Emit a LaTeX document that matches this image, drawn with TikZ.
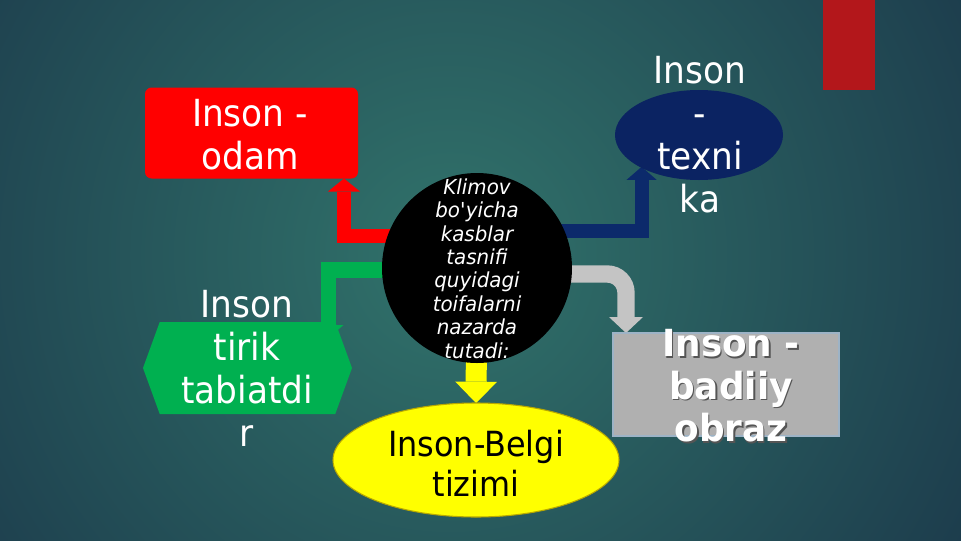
\documentclass[tikz,border=0pt]{standalone}
\usepackage{fontspec}
\setmainfont{DejaVu Sans}[FakeStretch=0.92]
\newfontfamily\boldfam{DejaVu Sans}[FakeStretch=0.96]
\usetikzlibrary{arrows.meta,shapes.geometric,shapes.symbols}
\definecolor{bgout}{HTML}{1B384A}
\definecolor{bgin}{HTML}{31736B}
\definecolor{redbox}{HTML}{FF0000}
\definecolor{navy}{HTML}{0B2362}
\definecolor{navyarr}{HTML}{0C2A6B}
\definecolor{greenbox}{HTML}{00B050}
\definecolor{graybox}{HTML}{B0B0B0}
\definecolor{grayedge}{HTML}{9DB3C6}
\definecolor{grayarr}{HTML}{C4C4C4}
\definecolor{yellowbox}{HTML}{FFFF00}
\definecolor{yellowedge}{HTML}{B8A800}
\definecolor{cornerred}{HTML}{B3171B}
\definecolor{shadowcol}{HTML}{555555}
\pgfdeclarelayer{bg}
\pgfdeclarelayer{arrowlayer}
\pgfsetlayers{bg,arrowlayer,main}
\begin{document}
\begin{tikzpicture}[x=0.75pt,y=-0.75pt,
  bigtext/.style={text=white,align=center,inner sep=0pt,font=\fontsize{28}{32.25}\selectfont},
  graytext/.style={align=center,inner sep=0pt,font=\boldfam\bfseries\fontsize{28}{31.9}\selectfont},
  shapebox/.style={inner sep=0pt,outer sep=0pt},
  conn/.style={line cap=butt,line join=miter},
  redarr/.style={conn,draw=redbox,line width=10.5pt,-{Triangle[width=24pt,length=9.75pt,line width=0pt]}},
  navyarr/.style={conn,draw=navyarr,line width=10.5pt,-{Triangle[width=22.5pt,length=9.75pt,line width=0pt]}},
  greenarr/.style={conn,draw=greenbox,line width=11.5pt,-{Triangle[width=22.5pt,length=9.75pt,line width=0pt]}},
  grayarr/.style={conn,draw=grayarr,line width=13pt,rounded corners=14pt,-{Triangle[width=25.5pt,length=12pt,line width=0pt]}},
  yellowarr/.style={conn,draw=yellowbox,line width=15.75pt,-{Triangle[width=31.5pt,length=16pt,line width=0pt]}}
]
\useasboundingbox (0,0) rectangle (961,540);
\begin{pgfonlayer}{bg}
  \fill[bgout] (-5,-5) rectangle (966,545);
  \begin{scope}
    \clip (-5,-5) rectangle (966,545);
    \shade[inner color=bgin,outer color=bgout] (450,255) circle[radius=640];
  \end{scope}
  \fill[cornerred] (823,0) rectangle (875,90);
\end{pgfonlayer}

% shapes
\node[shapebox,rectangle,rounded corners=5pt,fill=redbox,minimum width=159.75pt,minimum height=68.25pt] (odam) at (251.5,133) {};
\node[bigtext] at (250,135) {Inson -\\odam};

\node[shapebox,ellipse,fill=navy,minimum width=126pt,minimum height=67.5pt] (texnika) at (699,135) {};
\node[bigtext] at (700,134.5) {Inson\\-\\texni\\ka};

\node[shapebox,signal,signal to=east and west,signal pointer angle=140,fill=greenbox,minimum width=156.75pt,minimum height=69pt] (tirik) at (247.5,368) {};
\node[bigtext] at (247,368.5) {Inson\\tirik\\tabiatdi\\r};

\node[shapebox,rectangle,fill=graybox,draw=grayedge,line width=1.2pt,minimum width=169.5pt,minimum height=77.25pt] (badiiy) at (726,384.5) {};
\node[graytext,text=shadowcol] at (732.5,387.5) {Inson -\\badiiy\\obraz};
\node[graytext,text=white] at (731,386) {Inson -\\badiiy\\obraz};

\node[shapebox,ellipse,fill=yellowbox,draw=yellowedge,line width=0.8pt,minimum width=214.5pt,minimum height=85.5pt] (belgi) at (476,460) {};
\node[align=center,inner sep=0pt,text=black,font=\fontsize{26}{30}\selectfont] at (476,463) {Inson-Belgi\\tizimi};

\node[shapebox,circle,fill=black,minimum size=142.5pt] (c) at (477,268) {};
\node[align=center,inner sep=0pt,text=white,font=\boldfam\itshape\fontsize{15.5}{17.6}\selectfont] at (477,268.5)
  {Klimov\\bo\textquotesingle yicha\\kasblar\\tasnifi\\quyidagi\\toifalarni\\nazarda\\tutadi:};

% connectors
\begin{pgfonlayer}{arrowlayer}
  \draw[redarr] ([shift={(-40,-32)}]c.center) -| ([xshift=-10.5pt]odam.south east);
  \draw[navyarr] ([shift={(40,-37)}]c.center) -| ([xshift=1.5pt]texnika.south west);
  \draw[greenarr] ([shift={(-40,2)}]c.center) -| ([shift={(81,16)}]tirik.north);
  \draw[grayarr] ([shift={(40,6)}]c.center) -| ([xshift=9.75pt]badiiy.north west);
  \draw[yellowarr] (c.center) -- (belgi.north);
\end{pgfonlayer}
\end{tikzpicture}
\end{document}
